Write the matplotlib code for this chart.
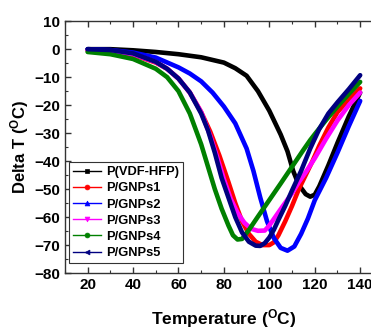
import matplotlib
matplotlib.use("Agg")
import matplotlib.pyplot as plt
from matplotlib.lines import Line2D
from matplotlib.ticker import MultipleLocator

plt.rcParams["font.family"] = ["Liberation Sans", "DejaVu Sans"]
plt.rcParams["font.weight"] = "bold"
plt.rcParams["mathtext.fontset"] = "custom"
plt.rcParams["mathtext.rm"] = "Liberation Sans:bold"
plt.rcParams["mathtext.bf"] = "Liberation Sans:bold"
plt.rcParams["mathtext.it"] = "Liberation Sans:bold"

# Temperature (°C) and Delta T (°C) for each sample
labels = ["P(VDF-HFP)", "P/GNPs1", "P/GNPs2", "P/GNPs3", "P/GNPs4", "P/GNPs5"]
colors = ["#000000", "#ff0000", "#0000ff", "#ff00ff", "#008000", "#000080"]
markers = ["s", "o", "^", "v", "o", "<"]

t_pvdf = [20, 30, 40, 50, 60, 70, 80, 85, 90, 95, 100, 105, 108, 110.5, 113,
          116, 118, 120, 122, 126, 130, 135, 140]
dt_pvdf = [0, 0, -0.4, -1.0, -1.8, -2.9, -4.8, -6.8, -9.5, -15, -22, -30.5,
           -36.5, -43.5, -48.5, -51.8, -52.7, -52, -49, -41.5, -33.5, -24, -15.5]

t_g1 = [20, 30, 40, 50, 55, 60, 65, 70, 74, 78, 82, 85, 88, 91, 94, 97, 100,
        102, 104, 107, 110, 113, 116, 119, 122, 126, 130, 135, 140]
dt_g1 = [-0.5, -0.8, -2, -4.8, -7, -10.5, -15.5, -22.5, -29.5, -38, -47.5, -55,
         -61.5, -66, -68.8, -70, -70, -69, -66.5, -61.5, -56, -50, -45, -40,
         -34.5, -28, -22.5, -18, -14]

t_g2 = [20, 30, 40, 50, 60, 65, 70, 75, 80, 85, 90, 93, 96, 99, 102, 105, 108,
        111, 114, 117, 120, 125, 130, 135, 140]
dt_g2 = [0, -0.3, -1.2, -3, -6.5, -8.7, -11.5, -15.5, -20.5, -26.5, -35.5,
         -43.5, -53, -61.5, -67.5, -71, -72, -70.5, -66, -60.5, -54, -46, -37,
         -27.5, -18.5]

t_g3 = [20, 30, 40, 50, 55, 60, 65, 70, 74, 77, 80, 83, 86, 89, 92, 95, 98,
        100, 103, 106, 110, 113, 116, 120, 125, 130, 135, 140]
dt_g3 = [-0.3, -0.6, -1.8, -4.6, -7, -10.5, -15.5, -22.5, -31, -38.5, -46.5,
         -53.5, -58.5, -62, -64.2, -64.9, -64.8, -63, -59.5, -56, -51.5, -47.5,
         -44, -39, -32, -25.5, -20, -15.5]

t_g4 = [20, 30, 40, 50, 55, 60, 65, 70, 73, 76, 79, 82, 84, 86, 88, 91, 95,
        100, 105, 110, 115, 118, 120, 125, 130, 135, 140]
dt_g4 = [-1, -1.8, -3.5, -7, -10, -15, -23, -34, -42, -50, -57, -63, -66.5,
         -68, -67.8, -64.6, -59.8, -53.9, -48, -42, -36, -32.5, -30.4, -25.3,
         -20.5, -16, -11.7]

t_g5 = [20, 30, 40, 50, 55, 60, 65, 70, 73, 76, 79, 82, 85, 88, 91, 94, 96,
        98, 100, 102, 104, 107, 110, 114, 118, 122, 126, 130, 135, 140]
dt_g5 = [0, -0.3, -1.5, -4.5, -7, -10.5, -15.5, -23, -29, -37, -46, -53, -60,
         -65.5, -68.8, -70.2, -70.3, -69.3, -67.3, -64.5, -61, -56, -50.5,
         -43.5, -35.5, -28.5, -23, -19, -14.3, -9.3]

series = [(t_pvdf, dt_pvdf), (t_g1, dt_g1), (t_g2, dt_g2),
          (t_g3, dt_g3), (t_g4, dt_g4), (t_g5, dt_g5)]

x_ticks = [20, 40, 60, 80, 100, 120, 140]
y_ticks = [10, 0, -10, -20, -30, -40, -50, -60, -70, -80]

fig = plt.figure(figsize=(3.71, 3.31), dpi=100)
ax = fig.add_axes([0.175, 0.175, 0.857, 0.761])

for (t, dt), c in zip(series, colors):
    ax.plot(t, dt, color=c, lw=3.3, solid_capstyle="round",
            solid_joinstyle="round")

ax.set_xlim(10, 150)
ax.set_ylim(-80, 10)
ax.set_xticks(x_ticks)
ax.set_yticks(y_ticks)
ax.xaxis.set_minor_locator(MultipleLocator(10))
ax.yaxis.set_minor_locator(MultipleLocator(5))
ax.tick_params(which="both", direction="in", top=True, right=True,
               colors="#333333", labelcolor="black", labelsize=11)
ax.tick_params(which="major", length=4, width=1)
ax.tick_params(which="minor", length=2.5, width=0.8)
for s in ax.spines.values():
    s.set_color("#333333")
    s.set_linewidth(1)

ax.set_xlabel(r"Temperature ($^{\mathbf{O}}$C)", fontsize=12.5,
              fontweight="bold", labelpad=11)
ax.set_ylabel(r"Delta T ($^{\mathbf{O}}$C)", fontsize=12,
              fontweight="bold", labelpad=2)

handles = [Line2D([], [], color=c, marker=m, lw=1, markersize=3.5,
                  markeredgewidth=0.5)
           for c, m in zip(colors, markers)]
leg = ax.legend(handles, labels, loc="lower left",
                bbox_to_anchor=(0.012, 0.04), borderaxespad=0,
                frameon=True, fancybox=False, edgecolor="#333333",
                framealpha=1, borderpad=0.3, labelspacing=0.32,
                handlelength=2.2, handletextpad=0.4,
                prop={"weight": "bold", "size": 9.3})
leg.get_frame().set_linewidth(0.8)

fig.savefig("out.png", dpi=100)
